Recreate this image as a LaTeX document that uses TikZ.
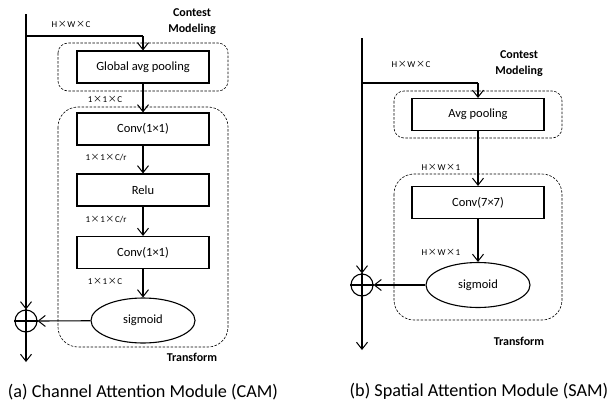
\documentclass[tikz,border=0pt]{standalone}
\usepackage{fontspec}
\setmainfont{Carlito}
\newfontfamily\cjkfont{Noto Sans CJK SC}
\usetikzlibrary{arrows.meta,shapes.geometric}
\tikzset{
  blk/.style={draw,line width=1.1pt,minimum width=132pt,minimum height=32pt,inner sep=0pt,font=\fontsize{12.5}{15}\selectfont},
  ell/.style={draw,line width=1.1pt,ellipse,minimum width=104pt,minimum height=45pt,inner sep=0pt,font=\fontsize{12.5}{15}\selectfont},
  grp/.style={draw,dashed,line width=0.6pt,dash pattern=on 2.5pt off 1.5pt},
  dim/.style={font=\fontsize{9}{10}\selectfont,inner sep=0pt},
  ttl/.style={font=\bfseries\fontsize{12}{16}\selectfont,align=center,inner sep=0pt},
  captxt/.style={font=\fontsize{18.2}{22}\selectfont,inner sep=0pt},
  arr/.style={line width=1.1pt,-{Straight Barb[length=7pt,width=11pt,line width=1pt]}},
  ln/.style={line width=1.1pt},
  opl/.style={draw,circle,line width=1.1pt,minimum size=22pt,inner sep=0pt}
}
\newcommand{\tms}{\kern0.6pt{\cjkfont ×}\kern0.6pt}
\begin{document}
\begin{tikzpicture}[x=1pt,y=-1pt]
\useasboundingbox (0,0) rectangle (611,405);
% ---------- (a) CAM ----------
\draw[grp,rounded corners=10pt] (58,43) rectangle (228,91);
\draw[grp,rounded corners=20pt] (58,107) rectangle (228,347);
\node[blk] (gap) at (143,67) {Global avg pooling};
\node[blk] (c1) at (143,129) {Conv(1×1)};
\node[blk] (relu) at (143,190) {Relu};
\node[blk] (c2) at (143,252.5) {Conv(1×1)};
\node[ell] (sa) at (143,320.5) {sigmoid};
\node[opl] (pa) at (26,321) {};
\draw[ln] (pa.north) -- (pa.south) (pa.west) -- (pa.east);
\coordinate (ta) at (26,14);
\coordinate (ja) at (26,36);
\coordinate (ka) at (143,36);
\coordinate (oa) at (26,362);
\draw[ln] (ta) -- (ja);
\draw[arr] (ja) -- (pa.north);
\draw[ln] (ja) -- (ka);
\draw[arr] (ka) -- (gap.north);
\draw[arr] (gap) -- (c1);
\draw[arr] (c1) -- (relu);
\draw[arr] (relu) -- (c2);
\draw[arr] (c2) -- (sa);
\draw[arr] (sa) -- (pa.east);
\draw[arr] (pa.south) -- (oa);
\node[dim] (la1) at (71,24) {H\tms W\tms C};
\node[dim] (la2) at (105,99) {1\tms 1\tms C};
\node[dim] (la3) at (106,158) {1\tms 1\tms C/r};
\node[dim] (la4) at (106,220) {1\tms 1\tms C/r};
\node[dim] (la5) at (105,281) {1\tms 1\tms C};
\node[ttl] (cma) at (192,22) {Contest\\Modeling};
\node[ttl] (tra) at (192,357) {Transform};
\node[captxt] (capa) at (143,392) {(a) Channel Attention Module (CAM)};
% ---------- (b) SAM ----------
\draw[grp,rounded corners=10pt] (394,91) rectangle (562,138);
\draw[grp,rounded corners=20pt] (394,174) rectangle (562,320);
\node[blk] (ap) at (478,114.5) {Avg pooling};
\node[blk] (c7) at (478,202.5) {Conv(7×7)};
\node[ell] (sb) at (478,285) {sigmoid};
\node[opl] (pb) at (362,285) {};
\draw[ln] (pb.north) -- (pb.south) (pb.west) -- (pb.east);
\coordinate (tb) at (362,38);
\coordinate (jb) at (362,83);
\coordinate (kb) at (478,83);
\coordinate (ob) at (362,350);
\draw[ln] (tb) -- (jb);
\draw[arr] (jb) -- (pb.north);
\draw[ln] (jb) -- (kb);
\draw[arr] (kb) -- (ap.north);
\draw[arr] (ap) -- (c7);
\draw[arr] (c7) -- (sb);
\draw[arr] (sb) -- (pb.east);
\draw[arr] (pb.south) -- (ob);
\node[dim] (lb1) at (411,64) {H\tms W\tms C};
\node[dim] (lb2) at (441,167) {H\tms W\tms 1};
\node[dim] (lb3) at (441,252) {H\tms W\tms 1};
\node[ttl] (cmb) at (519,63.5) {Contest\\Modeling};
\node[ttl] (trb) at (519,341) {Transform};
\node[captxt] (capb) at (479,391) {(b) Spatial Attention Module (SAM)};
\end{tikzpicture}
\end{document}
